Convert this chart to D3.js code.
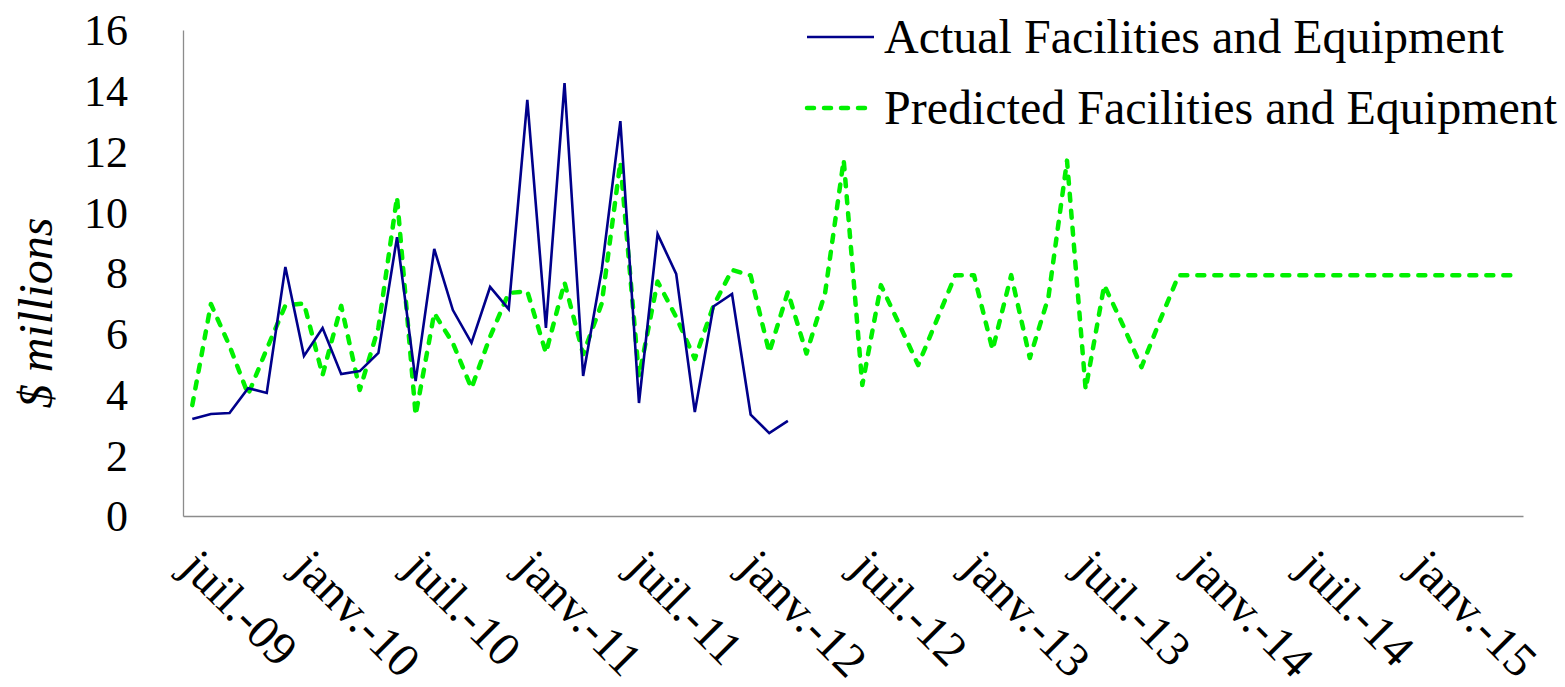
<!DOCTYPE html>
<html>
<head>
<meta charset="utf-8">
<script src="https://cdn.jsdelivr.net/npm/d3@7"></script>
<style>
  body { margin: 0; background: #fff; }
  text { font-family: "Liberation Serif", "Times New Roman", serif; fill: #000; }
</style>
</head>
<body>
<div id="chart"></div>
<script>
// monthly categories, juil. 2009 -> juin 2015
var months = [
  "2009-07","2009-08","2009-09","2009-10","2009-11","2009-12",
  "2010-01","2010-02","2010-03","2010-04","2010-05","2010-06",
  "2010-07","2010-08","2010-09","2010-10","2010-11","2010-12",
  "2011-01","2011-02","2011-03","2011-04","2011-05","2011-06",
  "2011-07","2011-08","2011-09","2011-10","2011-11","2011-12",
  "2012-01","2012-02","2012-03","2012-04","2012-05","2012-06",
  "2012-07","2012-08","2012-09","2012-10","2012-11","2012-12",
  "2013-01","2013-02","2013-03","2013-04","2013-05","2013-06",
  "2013-07","2013-08","2013-09","2013-10","2013-11","2013-12",
  "2014-01","2014-02","2014-03","2014-04","2014-05","2014-06",
  "2014-07","2014-08","2014-09","2014-10","2014-11","2014-12",
  "2015-01","2015-02","2015-03","2015-04","2015-05","2015-06"
];

var tickMonths = ["2009-07","2010-01","2010-07","2011-01","2011-07","2012-01",
                  "2012-07","2013-01","2013-07","2014-01","2014-07","2015-01"];
var tickLabels = ["juil.-09","janv.-10","juil.-10","janv.-11","juil.-11","janv.-12",
                  "juil.-12","janv.-13","juil.-13","janv.-14","juil.-14","janv.-15"];

var yTicks = [0, 2, 4, 6, 8, 10, 12, 14, 16];

// $ millions, juil.-09 -> mars-12
var actual = [
  3.19, 3.36, 3.39, 4.21, 4.05, 8.2, 5.27, 6.19, 4.67, 4.77, 5.37, 9.18,
  4.44, 8.79, 6.78, 5.7, 7.54, 6.81, 13.7, 6.19, 14.25, 4.61, 8.1, 13.0,
  3.72, 9.28, 7.97, 3.42, 6.9, 7.31, 3.34, 2.73, 3.13
];

// $ millions, juil.-09 -> juin-15
var predicted = [
  3.65, 6.98, 5.6, 4.0, 5.5, 6.93, 7.0, 4.64, 6.92, 4.15, 6.2, 10.5,
  3.32, 6.68, 5.69, 4.21, 5.9, 7.34, 7.4, 5.37, 7.69, 5.33, 7.0, 11.65,
  4.6, 7.72, 6.55, 5.17, 6.92, 8.1, 7.92, 5.38, 7.38, 5.35, 7.34, 11.72,
  4.31, 7.6, 6.29, 4.97, 6.45, 7.93, 7.93, 5.47, 7.93, 5.2, 7.2, 11.7,
  4.17, 7.6, 6.29, 4.9, 6.45, 7.93, 7.93, 7.93, 7.93, 7.93, 7.93, 7.93,
  7.93, 7.93, 7.93, 7.93, 7.93, 7.93, 7.93, 7.93, 7.93, 7.93, 7.93, 7.93
];

var seriesNames = ["Actual Facilities and Equipment", "Predicted Facilities and Equipment"];

function lineChart() {
  var margin = { top: 30, right: 42, bottom: 171, left: 183 },
      width = 1565 - margin.left - margin.right,
      height = 687 - margin.top - margin.bottom;

  var svg = d3.select("#chart")
    .append("svg")
    .attr("width", 1565)
    .attr("height", 687);

  var g = svg.append("g")
    .attr("transform", "translate(" + margin.left + "," + margin.top + ")");

  var x = d3.scalePoint().domain(months).range([0, width]).padding(0.5);
  var y = d3.scaleLinear().domain([0, 16]).range([height, 0]);

  // y axis
  var yAxis = g.append("g")
    .call(d3.axisLeft(y).tickValues(yTicks).tickSize(0).tickPadding(55).tickSizeOuter(0));
  yAxis.select(".domain").attr("stroke", "#8c8c8c").attr("stroke-width", 1.3);
  yAxis.selectAll("text").style("font-size", "44px").attr("dy", "0.34em");

  // x axis, labels turned 45 degrees
  var xAxis = g.append("g")
    .attr("transform", "translate(0," + height + ")")
    .call(d3.axisBottom(x)
      .tickValues(tickMonths)
      .tickSize(0)
      .tickSizeOuter(0)
      .tickFormat(function (d) { return tickLabels[tickMonths.indexOf(d)]; }));
  xAxis.select(".domain").attr("stroke", "#8c8c8c").attr("stroke-width", 1.3);
  xAxis.selectAll("text")
    .style("font-size", "48px")
    .style("text-anchor", "start")
    .attr("y", 0)
    .attr("dy", 0)
    .attr("transform", "translate(-14,54) rotate(45)");

  // y axis title
  svg.append("text")
    .attr("transform", "translate(52,313) rotate(-90)")
    .style("text-anchor", "middle")
    .style("font-size", "48px")
    .style("font-style", "italic")
    .text("$ millions");

  var line = d3.line()
    .x(function (d, i) { return x(months[i]); })
    .y(function (d) { return y(d); });

  g.append("path")
    .datum(predicted)
    .attr("fill", "none")
    .attr("stroke", "#00f000")
    .attr("stroke-width", 4.5)
    .attr("stroke-dasharray", "7,10")
    .attr("stroke-linecap", "round")
    .attr("stroke-linejoin", "round")
    .attr("d", line);

  g.append("path")
    .datum(actual)
    .attr("fill", "none")
    .attr("stroke", "#00008b")
    .attr("stroke-width", 2.6)
    .attr("stroke-linejoin", "miter")
    .attr("d", line);

  // legend
  var legend = svg.selectAll(".legend")
    .data(seriesNames)
    .enter().append("g")
    .attr("class", "legend")
    .attr("transform", function (d, i) { return "translate(807," + (37 + i * 71) + ")"; });

  legend.append("line")
    .attr("x1", 0)
    .attr("x2", 67)
    .attr("stroke", function (d, i) { return i === 0 ? "#00008b" : "#00f000"; })
    .attr("stroke-width", function (d, i) { return i === 0 ? 2.6 : 4.5; })
    .attr("stroke-dasharray", function (d, i) { return i === 0 ? null : "7,10"; })
    .attr("stroke-linecap", function (d, i) { return i === 0 ? "butt" : "round"; });

  legend.append("text")
    .attr("x", 77)
    .attr("dy", "0.33em")
    .style("font-size", "48px")
    .text(function (d) { return d; });
}

lineChart();
</script>
</body>
</html>
